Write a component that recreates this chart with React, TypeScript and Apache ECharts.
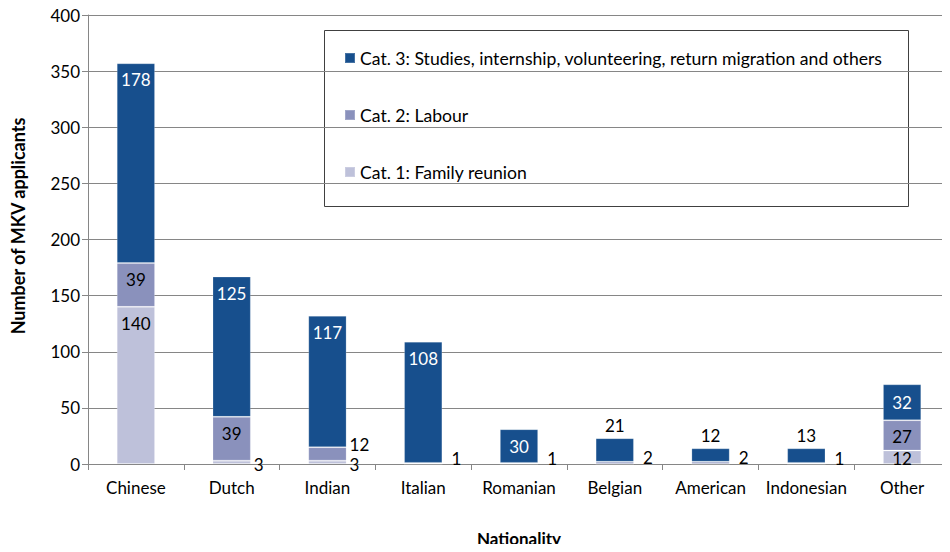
import React, { useEffect, useRef } from "react";
import * as echarts from "echarts";

const categories = ["Chinese", "Dutch", "Indian", "Italian", "Romanian", "Belgian", "American", "Indonesian", "Other"];
const cat1Values = [140, 3, 3, 0, 0, 0, 0, 0, 12];
const cat2Values = [39, 39, 12, 1, 1, 2, 2, 1, 27];
const cat3Values = [178, 125, 117, 108, 30, 21, 12, 13, 32];
const seriesNames = [
  "Cat. 1: Family reunion",
  "Cat. 2: Labour",
  "Cat. 3: Studies, internship, volunteering, return migration and others",
];
const yTicks = { min: 0, max: 400, interval: 50 };
const yAxisTitle = "Number of MKV applicants";
const xAxisTitle = "Nationality";

const FONT = "Lato";
const colors = ["#BEC1DA", "#8A91BC", "#174F8D"];
const sideLabelCats = ["Indian"];

function labelFor(s: number, c: number, v: number): any {
  const base: any = { show: true, fontFamily: FONT, fontSize: 17, color: s === 2 ? "#ffffff" : "#000000" };
  if (v === 0) return { show: false };
  if (s === 2) {
    if (v >= 100) return { ...base, position: "insideTop", distance: 8 };
    if (v >= 25) return { ...base, position: "inside" };
    return { ...base, position: "top", distance: 4, color: "#000000" };
  }
  if (v >= 25) return { ...base, position: "insideTop", distance: 8 };
  if (v >= 10 && sideLabelCats.indexOf(categories[c]) < 0) return { ...base, position: "inside", offset: [0, 1] };
  const small = v <= 2;
  const dy = small ? -5 : v >= 10 ? -9 : 2;
  return { ...base, color: "#000000", position: "right", distance: small ? 9 : 3, offset: [0, dy] };
}

export default function App() {
  const ref = useRef<HTMLDivElement>(null);
  useEffect(() => {
    if (!ref.current) return;
    const chart = echarts.init(ref.current, undefined, { renderer: "svg" });
    const valueSets = [cat1Values, cat2Values, cat3Values];
    chart.setOption({
      animation: false,
      textStyle: { fontFamily: FONT },
      grid: { left: 88, right: 0, top: 15, bottom: 88, containLabel: false, outerBoundsMode: "none" },
      legend: {
        data: [seriesNames[2], seriesNames[1], seriesNames[0]],
        orient: "vertical",
        left: 339,
        top: 44,
        icon: "rect",
        itemWidth: 10,
        itemHeight: 10,
        itemGap: 39,
        textStyle: { fontFamily: FONT, fontSize: 17.6, color: "#000", lineHeight: 18 },
      },
      graphic: [
        {
          type: "rect",
          left: 324,
          top: 30,
          shape: { width: 584, height: 176 },
          style: { fill: "#ffffff", stroke: "#404040", lineWidth: 1 },
          z: -1,
        },
        {
          type: "text",
          x: 18,
          y: 226,
          rotation: Math.PI / 2,
          style: {
            text: yAxisTitle,
            fontFamily: FONT,
            fontSize: 18,
            fontWeight: "bold",
            fill: "#000",
            align: "center",
            verticalAlign: "middle",
          },
        },
      ],
      xAxis: {
        type: "category",
        data: categories,
        name: xAxisTitle,
        nameLocation: "middle",
        nameGap: 66,
        nameTextStyle: { fontFamily: FONT, fontSize: 17, fontWeight: "bold", color: "#000" },
        axisLine: { lineStyle: { color: "#868686", width: 1 } },
        axisTick: { show: true, length: 6, lineStyle: { color: "#868686" } },
        axisLabel: { fontFamily: FONT, fontSize: 17, color: "#000", margin: 15, interval: 0 },
      },
      yAxis: {
        type: "value",
        min: yTicks.min,
        max: yTicks.max,
        interval: yTicks.interval,
        axisLine: { show: true, lineStyle: { color: "#868686", width: 1 } },
        axisTick: { show: true, length: 6, lineStyle: { color: "#868686" } },
        axisLabel: { fontFamily: FONT, fontSize: 17, color: "#000", margin: 8 },
        splitLine: { lineStyle: { color: "#868686", width: 1 } },
      },
      series: valueSets.map((vals, s) => ({
        name: seriesNames[s],
        type: "bar",
        stack: "total",
        barWidth: "40%",
        itemStyle: { color: colors[s], borderColor: "rgba(255,255,255,0.2)", borderWidth: 1 },
        data: vals.map((v, c) => ({ value: v, label: labelFor(s, c, v) })),
      })),
    });
    return () => chart.dispose();
  }, []);
  return <div ref={ref} style={{ width: 950, height: 552, margin: -8 }} />;
}
